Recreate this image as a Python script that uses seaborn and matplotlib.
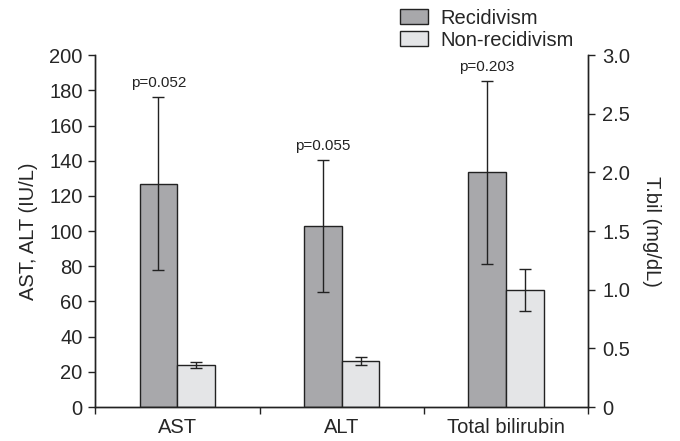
import matplotlib
matplotlib.use('Agg')
import matplotlib.pyplot as plt
import matplotlib.ticker as mticker
import numpy as np
import pandas as pd
import seaborn as sns

# Values (mean and error half-width)
categories = ['AST', 'ALT', 'Total bilirubin']
groups = ['Recidivism', 'Non-recidivism']
enzyme_tests = ['AST', 'ALT']
recid_enzyme = [127, 103]
recid_enzyme_err = [49, 37.5]
nonrecid_enzyme = [24, 26]
nonrecid_enzyme_err = [1.8, 2.2]
recid_tbil = [2.0]
recid_tbil_err = [0.78]
nonrecid_tbil = [1.0]
nonrecid_tbil_err = [0.18]
p_values = ['p=0.052', 'p=0.055', 'p=0.203']
colors = ['#a7a8ab', '#e4e5e7']

df_left = pd.DataFrame({
    'test': enzyme_tests * 2,
    'group': [groups[0]] * 2 + [groups[1]] * 2,
    'value': recid_enzyme + nonrecid_enzyme,
    'err': recid_enzyme_err + nonrecid_enzyme_err,
})
df_right = pd.DataFrame({
    'test': ['Total bilirubin'] * 2,
    'group': groups,
    'value': recid_tbil + nonrecid_tbil,
    'err': recid_tbil_err + nonrecid_tbil_err,
})

sns.set_style('ticks')
plt.rcParams['font.family'] = ['Liberation Sans', 'DejaVu Sans']
fs = 14.5

fig, ax = plt.subplots(figsize=(6.8, 4.41), dpi=100)
fig.subplots_adjust(left=0.14, right=0.865, bottom=0.077, top=0.875)
ax2 = ax.twinx()

bar_w = 0.46
for axis, d in [(ax, df_left), (ax2, df_right)]:
    sns.barplot(data=d, x='test', y='value', hue='group', order=categories,
                hue_order=groups, palette=colors, width=bar_w, errorbar=None,
                edgecolor='#222222', linewidth=1, ax=axis, legend=(axis is ax))
    # error bars on the bar centres
    for _, row in d.iterrows():
        xi = categories.index(row['test']) + (groups.index(row['group']) - 0.5) * bar_w / 2
        axis.errorbar(xi, row['value'], yerr=row['err'], fmt='none',
                      ecolor='#222222', elinewidth=1, capsize=4.5, capthick=1, zorder=5)

# p-values above the recidivism error bars
for i, txt in enumerate(p_values):
    d, axis = (df_left, ax) if i < 2 else (df_right, ax2)
    row = d[(d['test'] == categories[i]) & (d['group'] == groups[0])].iloc[0]
    xi = i - 0.5 * bar_w / 2
    axis.annotate(txt, (xi, row['value'] + row['err']), xytext=(0, 5),
                  textcoords='offset points', ha='center', va='bottom',
                  fontsize=11, color='#222222')

ax.set_xlim(-0.5, 2.5)
ax.set_ylim(0, 200)
ax2.set_ylim(0, 3.0)
ax.set_yticks(np.arange(0, 201, 20))
ax2.set_yticks(np.arange(0, 3.01, 0.5))
ax2.yaxis.set_major_formatter(mticker.FuncFormatter(lambda v, p: '0' if v == 0 else f'{v:.1f}'))

ax.set_xlabel('')
ax.set_ylabel('AST, ALT (IU/L)', fontsize=fs, labelpad=8)
ax2.set_ylabel('T.bil (mg/dL)', fontsize=fs, rotation=270, labelpad=22)

ax.set_xticks(range(3))
ax.set_xticklabels(categories)
ax.set_xticks([-0.5, 0.5, 1.5, 2.5], minor=True)
ax.tick_params(axis='x', which='major', length=0, pad=8, labelsize=fs)
ax.tick_params(axis='x', which='minor', length=5, width=1, direction='out', color='#222222')
ax.tick_params(axis='y', length=5, width=1, labelsize=fs, pad=4, color='#222222')
ax2.tick_params(axis='y', length=5, width=1, labelsize=fs, pad=5, color='#222222')

for a in (ax, ax2):
    a.spines['top'].set_visible(False)
    for s in a.spines.values():
        s.set_linewidth(1)
        s.set_color('#222222')

handles, labels = ax.get_legend_handles_labels()
ax.get_legend().remove()
fig.legend(handles, labels, loc='upper left', bbox_to_anchor=(0.568, 1.012),
           frameon=False, fontsize=fs, handlelength=1.35, handleheight=0.75,
           labelspacing=0.15, handletextpad=0.65, borderpad=0.2)

fig.savefig('out.png', dpi=100)
